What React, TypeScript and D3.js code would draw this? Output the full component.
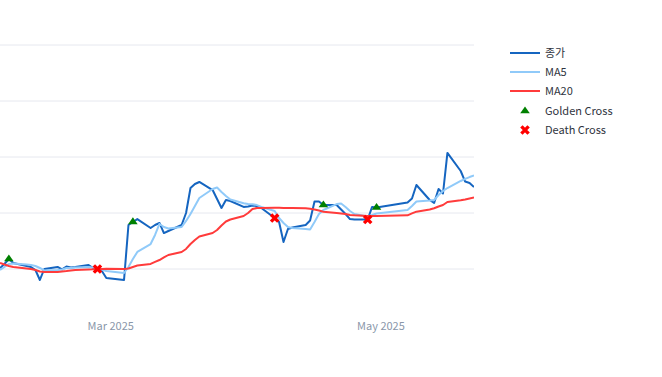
import React from "react";
import * as d3 from "d3";

const dates = [
  "2025-02-04","2025-02-05","2025-02-06","2025-02-07","2025-02-10","2025-02-11","2025-02-12","2025-02-13","2025-02-14",
  "2025-02-17","2025-02-18","2025-02-19","2025-02-20","2025-02-21","2025-02-24","2025-02-25","2025-02-26","2025-02-27","2025-02-28",
  "2025-03-04","2025-03-05","2025-03-06","2025-03-07","2025-03-10","2025-03-11","2025-03-12","2025-03-13","2025-03-14",
  "2025-03-17","2025-03-18","2025-03-19","2025-03-20","2025-03-21","2025-03-24","2025-03-25","2025-03-26","2025-03-27","2025-03-28",
  "2025-03-31","2025-04-01","2025-04-02","2025-04-03","2025-04-04","2025-04-07","2025-04-08","2025-04-09","2025-04-10","2025-04-11",
  "2025-04-14","2025-04-15","2025-04-16","2025-04-17","2025-04-18","2025-04-21","2025-04-22","2025-04-23","2025-04-24","2025-04-25",
  "2025-04-28","2025-04-29","2025-04-30","2025-05-07","2025-05-08","2025-05-09","2025-05-12","2025-05-13","2025-05-14","2025-05-15",
  "2025-05-16","2025-05-19","2025-05-20","2025-05-21","2025-05-22"
];

const close = [
  20090,20450,20890,20540,20270,20180,19910,19020,20000,
  20180,19960,20220,20130,20180,20360,20090,20000,19820,19200,
  19020,23930,24200,24460,23660,23930,24110,23210,23390,
  23930,25000,27230,27590,27770,27050,26250,25450,26160,26070,
  25540,25580,25670,25630,25450,24550,24200,22410,23570,23710,
  23930,24330,26030,26030,25710,25710,25310,24910,24460,24420,
  24420,25540,25490,25940,26300,27500,26160,25890,27140,26740,
  30360,28750,27810,27680,27320
];

const ma5 = [
  19910,20180,20450,20490,20400,20360,20270,20090,19870,
  19910,19960,20090,20090,20130,20180,20130,20090,19960,19820,
  19640,20180,20890,21520,22230,23040,24020,23750,23620,
  23750,24290,24910,25630,26340,27140,27280,26880,26520,26210,
  25870,25800,25780,25710,25540,25180,24550,24110,23750,23660,
  23570,23530,24200,24910,25270,25800,25850,25540,25180,24910,
  24690,24820,24960,25270,25630,26030,26120,26160,26610,26960,
  27230,27860,28040,28210,28350
];

const ma20 = [
  20540,20400,20270,20180,20040,20000,19910,19780,19730,
  19730,19780,19820,19870,19910,19960,19970,20000,20000,20020,
  20000,20040,20180,20310,20450,20630,20800,21030,21250,
  21520,21790,22230,22590,22900,23210,23480,23880,24240,24420,
  24730,25000,25360,25450,25450,25460,25460,25450,25450,25450,
  25430,25380,25310,25220,25120,25000,24960,24910,24820,24790,
  24730,24730,24730,24790,24960,25120,25310,25420,25580,25710,
  25980,26130,26210,26300,26380
];

const goldenDates = ["2025-02-06", "2025-03-06", "2025-04-18", "2025-04-30"];
const deathDates = ["2025-02-26", "2025-04-07", "2025-04-28"];

const yTicks = [20000, 25000, 30000, 35000, 40000];
const legendLabels = ["종가", "MA5", "MA20", "Golden Cross", "Death Cross"];

const C_CLOSE = "#1565c0";
const C_MA5 = "#90caf9";
const C_MA20 = "#ff3b3b";
const C_GOLD = "#008000";
const C_DEATH = "#ff0000";
const FONT = "'Noto Sans CJK KR', 'Noto Sans', sans-serif";

const parse = d3.timeParse("%Y-%m-%d");

export default function App() {
  const W = 662, H = 377;
  const plotL = 0, plotR = 474;
  const parsed = dates.map((d) => parse(d) as Date);
  const x = d3.scaleTime().domain([parsed[0], parsed[parsed.length - 1]]).range([plotL, plotR]);
  const y = d3.scaleLinear().domain([20000, 40000]).range([269, 45]);

  const mk = (vals: number[]) =>
    d3.line<number>().x((_, i) => x(parsed[i])).y((v) => y(v))(vals) as string;

  const idx = (ds: string) => dates.indexOf(ds);
  const xTicks = x.ticks(d3.timeMonth.every(2) as any);
  const fmt = d3.timeFormat("%b %Y");

  const tri = (r: number) => {
    const rt = r * 1.04, r2 = r * 0.5;
    return `M${-rt},${r2}H${rt}L0,${-r}Z`;
  };
  const xPath = (s: number) => `M${-s},${-s}L${s},${s}M${s},${-s}L${-s},${s}`;

  const legendY = [53, 72, 91, 111, 130];

  return (
    <svg width={W} height={H} style={{ position: "absolute", left: 0, top: 0, background: "#fff" }} fontFamily={FONT}>
      <defs>
        <clipPath id="plotclip">
          <rect x={plotL} y={0} width={plotR - plotL} height={315} />
        </clipPath>
      </defs>
      <g>
        {yTicks.map((t) => (
          <line key={t} x1={plotL} x2={plotR} y1={y(t)} y2={y(t)} stroke="#e6e8ef" strokeWidth={1} />
        ))}
      </g>
      <g>
        {xTicks.map((t, i) => (
          <text key={i} x={x(t)} y={330} textAnchor="middle" fontSize={11} fill="#8a97aa">
            {fmt(t)}
          </text>
        ))}
      </g>
      <g clipPath="url(#plotclip)" fill="none" strokeLinejoin="round">
        <path d={mk(close)} stroke={C_CLOSE} strokeWidth={2} />
        <path d={mk(ma5)} stroke={C_MA5} strokeWidth={2} />
        <path d={mk(ma20)} stroke={C_MA20} strokeWidth={2} />
      </g>
      <g>
        {goldenDates.map((d) => {
          const i = idx(d);
          return (
            <path key={d} d={tri(4.6)} transform={`translate(${x(parsed[i])},${y(close[i])})`} fill={C_GOLD} />
          );
        })}
        {deathDates.map((d) => {
          const i = idx(d);
          return (
            <path key={d} d={xPath(3.6)} transform={`translate(${x(parsed[i])},${y(close[i])})`} stroke={C_DEATH} strokeWidth={3.4} fill="none" />
          );
        })}
      </g>
      <g fontSize={11} fill="#2f3440">
        {[C_CLOSE, C_MA5, C_MA20].map((c, i) => (
          <line key={i} x1={510} x2={540} y1={legendY[i]} y2={legendY[i]} stroke={c} strokeWidth={2} />
        ))}
        <path d={tri(4.6)} transform={`translate(525,${legendY[3]})`} fill={C_GOLD} />
        <path d={xPath(3.6)} transform={`translate(525,${legendY[4]})`} stroke={C_DEATH} strokeWidth={3.4} fill="none" />
        {legendLabels.map((l, i) => (
          <text key={l} x={545} y={legendY[i]} dy="0.35em">
            {l}
          </text>
        ))}
      </g>
    </svg>
  );
}
